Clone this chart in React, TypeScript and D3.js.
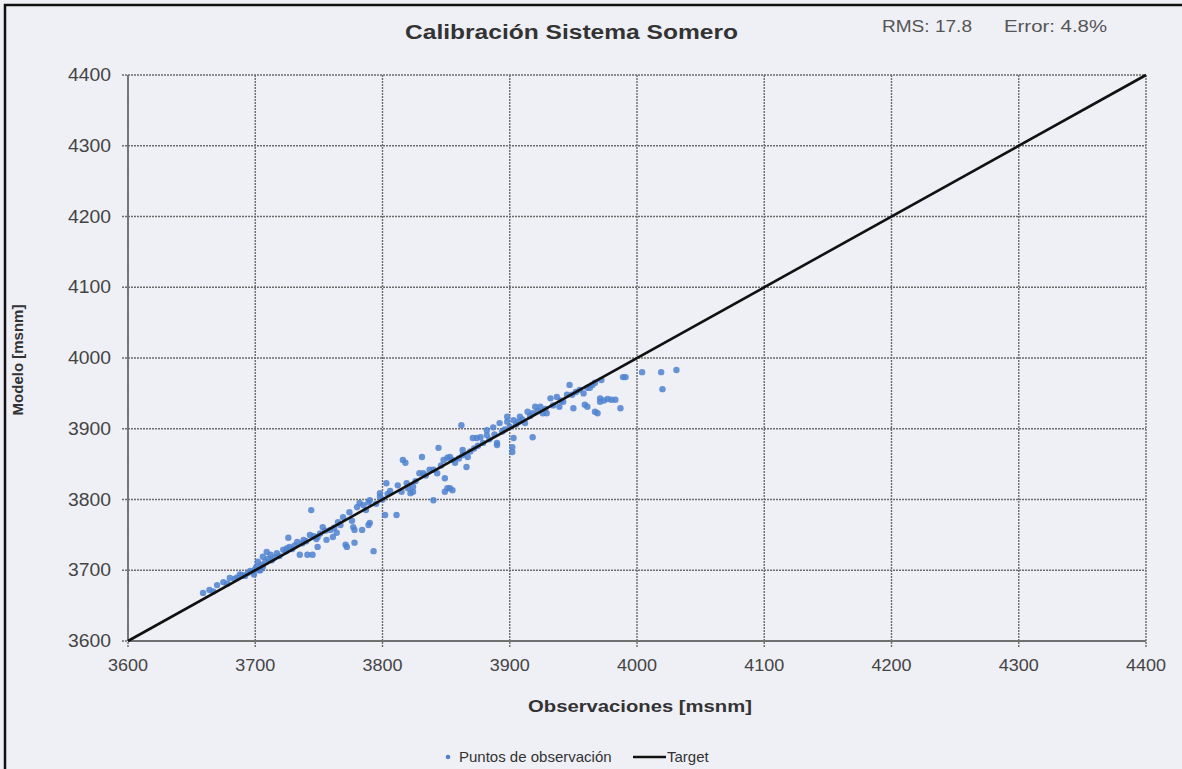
import React from 'react';
import * as d3 from 'd3';

const observaciones = [
  3659, 3664, 3667, 3670, 3675, 3678, 3680, 3684, 3686, 3688, 3690, 3692, 3694, 3696, 3698, 3699, 3700, 3701, 3702, 3703,
  3704, 3705, 3706, 3706, 3708, 3709, 3710, 3712, 3713, 3715, 3717, 3719, 3722, 3724, 3725, 3726, 3727, 3729, 3731, 3733,
  3735, 3737, 3738, 3740, 3741, 3743, 3744, 3745, 3746, 3748, 3749, 3749, 3751, 3753, 3755, 3756, 3759, 3761, 3762, 3764,
  3765, 3767, 3769, 3771, 3772, 3774, 3776, 3777, 3778, 3778, 3780, 3782, 3784, 3785, 3787, 3789, 3789, 3790, 3790, 3793,
  3795, 3798, 3798, 3800, 3802, 3803, 3804, 3806, 3811, 3812, 3815, 3816, 3818, 3819, 3820, 3822, 3824, 3824, 3826, 3829,
  3831, 3832, 3834, 3837, 3840, 3840, 3843, 3844, 3846, 3848, 3849, 3849, 3851, 3851, 3853, 3853, 3855, 3855, 3857, 3860,
  3862, 3863, 3863, 3866, 3867, 3869, 3871, 3872, 3874, 3875, 3877, 3879, 3882, 3882, 3884, 3887, 3888, 3890, 3890, 3892,
  3894, 3896, 3898, 3898, 3900, 3902, 3902, 3903, 3903, 3905, 3907, 3908, 3910, 3912, 3914, 3916, 3918, 3918, 3920, 3922,
  3924, 3926, 3928, 3929, 3932, 3934, 3937, 3939, 3940, 3942, 3945, 3947, 3949, 3950, 3952, 3955, 3958, 3959, 3961, 3961,
  3963, 3965, 3967, 3967, 3969, 3971, 3971, 3972, 3974, 3977, 3980, 3983, 3987, 3989, 3991, 4004, 4019, 4020, 4031,
];
const modelo = [
  3668, 3672, 3670, 3679, 3683, 3681, 3689, 3688, 3690, 3694, 3693, 3692, 3696, 3699, 3698, 3694, 3702, 3705, 3712, 3700,
  3700, 3708, 3705, 3719, 3712, 3726, 3716, 3722, 3714, 3718, 3724, 3720, 3729, 3727, 3731, 3746, 3733, 3730, 3735, 3740,
  3722, 3738, 3743, 3741, 3722, 3750, 3785, 3722, 3748, 3744, 3747, 3733, 3752, 3761, 3756, 3743, 3757, 3747, 3760, 3753,
  3768, 3764, 3775, 3736, 3733, 3782, 3770, 3761, 3739, 3757, 3789, 3795, 3757, 3792, 3785, 3764, 3796, 3767, 3799, 3727,
  3794, 3804, 3809, 3800, 3778, 3823, 3808, 3812, 3778, 3820, 3811, 3856, 3852, 3823, 3816, 3809, 3818, 3811, 3826, 3837,
  3860, 3837, 3834, 3842, 3799, 3842, 3837, 3873, 3848, 3856, 3830, 3811, 3859, 3816, 3860, 3816, 3856, 3813, 3852, 3858,
  3905, 3863, 3870, 3846, 3860, 3868, 3887, 3872, 3887, 3876, 3888, 3880, 3891, 3898, 3885, 3902, 3892, 3877, 3880, 3908,
  3896, 3899, 3910, 3917, 3903, 3874, 3867, 3912, 3887, 3906, 3910, 3917, 3913, 3908, 3924, 3918, 3922, 3888, 3931, 3925,
  3931, 3922, 3928, 3922, 3943, 3933, 3945, 3931, 3940, 3938, 3948, 3962, 3948, 3929, 3952, 3955, 3950, 3934, 3958, 3931,
  3958, 3962, 3965, 3924, 3922, 3943, 3938, 3969, 3940, 3942, 3941, 3941, 3929, 3973, 3973, 3980, 3980, 3956, 3983,
];
const targetLine = [3600, 4400];
const axisTicks = [3600, 3700, 3800, 3900, 4000, 4100, 4200, 4300, 4400];

const W = 1182;
const H = 769;
const FONT = '"Liberation Sans", Arial, sans-serif';

export default function App() {
  const x = d3.scaleLinear().domain([3600, 4400]).range([128, 1146]);
  const y = d3.scaleLinear().domain([3600, 4400]).range([641, 75]);
  const [x0, x1] = x.range();
  const [y0, y1] = y.range();

  const points = observaciones.map((o, i) => ({ o, m: modelo[i] }));
  const line = d3.line<number>().x((d) => x(d)).y((d) => y(d));

  return (
    <svg width={W} height={H} style={{ position: 'fixed', left: 0, top: 0, display: 'block' }}>
      <rect x={0} y={0} width={W} height={H} fill="#efeff6" />
      <rect x={5} y={5} width={W + 10} height={H + 10} fill="none" stroke="#111" strokeWidth={2.5} />

      {/* title and stats */}
      <text x={405} y={39} textLength={333} lengthAdjust="spacingAndGlyphs" fontFamily={FONT} fontWeight="bold" fontSize={20} fill="#333">
        Calibración Sistema Somero
      </text>
      <text x={882} y={32} textLength={90} lengthAdjust="spacingAndGlyphs" fontFamily={FONT} fontSize={16} fill="#555">RMS: 17.8</text>
      <text x={1004} y={32} textLength={103} lengthAdjust="spacingAndGlyphs" fontFamily={FONT} fontSize={16} fill="#555">Error: 4.8%</text>

      {/* grid */}
      {axisTicks.map((t) => (
        <g key={'g' + t}>
          <line x1={x(t)} x2={x(t)} y1={y1} y2={y0 + 6} stroke="#6c6c6c" strokeWidth={1.4} strokeDasharray="2,1" />
          <line x1={x0 - 6} x2={x1} y1={y(t)} y2={y(t)} stroke="#6c6c6c" strokeWidth={1.4} strokeDasharray="2,1" />
        </g>
      ))}
      <line x1={x0} x2={x0} y1={y1} y2={y0} stroke="#707070" strokeWidth={1.8} />
      <line x1={x0} x2={x1} y1={y0} y2={y0} stroke="#707070" strokeWidth={1.8} />

      {/* tick labels */}
      {axisTicks.map((t) => (
        <text key={'yl' + t} x={68} y={y(t) + 6} textLength={43} lengthAdjust="spacingAndGlyphs" fontFamily={FONT} fontSize={17.5} fill="#444">
          {t}
        </text>
      ))}
      {axisTicks.map((t) => (
        <text key={'xl' + t} x={x(t) - 20} y={671} textLength={40} lengthAdjust="spacingAndGlyphs" fontFamily={FONT} fontSize={17} fill="#444">
          {t}
        </text>
      ))}

      {/* axis titles */}
      <text x={528} y={712} textLength={224} lengthAdjust="spacingAndGlyphs" fontFamily={FONT} fontWeight="bold" fontSize={16.5} fill="#333">
        Observaciones [msnm]
      </text>
      <text
        transform={`translate(23,360) rotate(-90)`}
        textAnchor="middle"
        fontFamily={FONT}
        fontWeight="bold"
        fontSize={15}
        fill="#333"
      >
        Modelo [msnm]
      </text>

      {/* observation points */}
      {points.map((p, i) => (
        <circle key={i} cx={x(p.o)} cy={y(p.m)} r={3.2} fill="#4f82d0" fillOpacity={0.85} />
      ))}

      {/* target 1:1 line */}
      <path d={line(targetLine) || ''} fill="none" stroke="#111" strokeWidth={2.6} />

      {/* legend */}
      <circle cx={448} cy={757} r={2.3} fill="#4f82d0" />
      <text x={459} y={762} fontFamily={FONT} fontSize={15} fill="#333">Puntos de observación</text>
      <line x1={633} x2={666} y1={757} y2={757} stroke="#111" strokeWidth={2.6} />
      <text x={667} y={762} fontFamily={FONT} fontSize={15} fill="#333">Target</text>
    </svg>
  );
}
